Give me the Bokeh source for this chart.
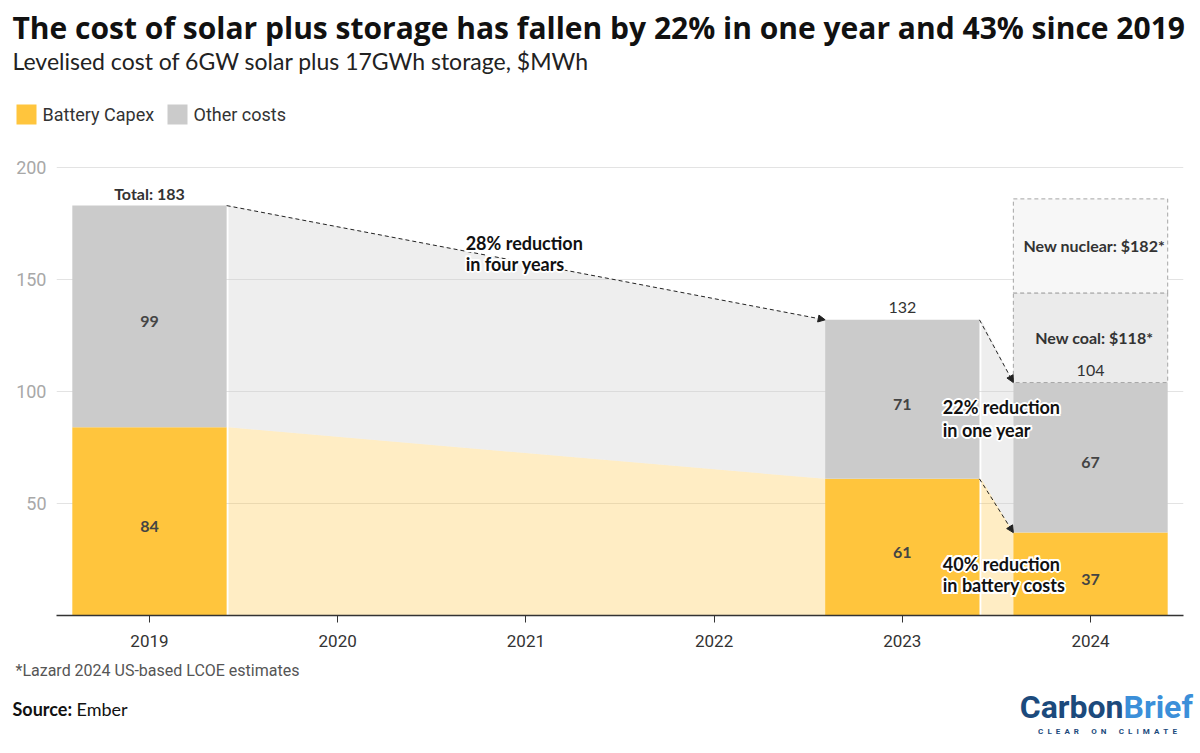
from bokeh.plotting import figure
from bokeh.layouts import column
from bokeh.models import (ColumnDataSource, Arrow, NormalHead, FixedTicker, Range1d)
from bokeh.embed import file_html
from bokeh.resources import INLINE
from bokeh.core.properties import value

# ---------------- data ----------------
years = [2019, 2023, 2024]
year_ticks = [2019, 2020, 2021, 2022, 2023, 2024]
battery_capex = [84, 61, 37]
other_costs = [99, 71, 67]
totals = [183, 132, 104]
total_labels = ["Total: 183", "132", "104"]
compare_names = ["New coal: $118*", "New nuclear: $182*"]
compare_bottom = [104, 144]
compare_top = [144, 186]
y_ticks = [50, 100, 150, 200]
series_names = ["Battery Capex", "Other costs"]

BAR_W = 0.82
YELLOW = "#FFC53D"
GREY = "#CBCBCB"
BOLD_FONT = "Lato"
TICK_FONT = "Roboto"
LOGO_FONT = "'Noto Sans ExtraCondensed', 'Noto Sans Condensed', Roboto"
W = 1200


def blank(height, y0, y1):
    f = figure(width=W, height=height, output_backend="svg", toolbar_location=None,
               x_range=Range1d(0, W), y_range=Range1d(y0, y1),
               x_axis_type=None, y_axis_type=None, min_border=0)
    f.outline_line_color = None
    f.grid.visible = False
    f.background_fill_color = "white"
    f.border_fill_color = "white"
    return f


# ---------------- header ----------------
head = blank(150, 150, 0)
head.text(x=[12], y=[27],
          text=["The cost of solar plus storage has fallen by 22% in one year and 43% since 2019"],
          text_font=value("Open Sans"), text_font_style="bold", text_font_size="30px",
          text_color="#111111", text_baseline="middle")
head.text(x=[12], y=[60], text=["Levelised cost of 6GW solar plus 17GWh storage, $MWh"],
          text_font=value(BOLD_FONT), text_font_size="23px", text_color="#222222",
          text_baseline="middle")
head.quad(left=[16, 167], right=[36, 187], top=[104, 104], bottom=[124, 124],
          fill_color=[YELLOW, GREY], line_color=None)
head.text(x=[42, 193], y=[114, 114], text=series_names, text_font=value(TICK_FONT),
          text_font_size="18px", text_color="#333333", text_baseline="middle")

# ---------------- main chart ----------------
p = figure(width=W, height=505, output_backend="svg", toolbar_location=None,
           x_range=Range1d(2018.506, 2024.494), y_range=Range1d(0, 207.6),
           min_border_left=56, min_border_right=17, min_border_top=0,
           min_border_bottom=40)
p.outline_line_color = None
p.background_fill_color = "white"
p.border_fill_color = "white"

p.xgrid.visible = False
p.ygrid.ticker = FixedTicker(ticks=y_ticks)
p.ygrid.grid_line_color = "#e3e3e3"
p.ygrid.grid_line_width = 1

p.xaxis.ticker = FixedTicker(ticks=year_ticks)
p.xaxis.axis_line_color = "#333333"
p.xaxis.axis_line_width = 1.5
p.xaxis.major_tick_line_color = "#333333"
p.xaxis.major_tick_out = 7
p.xaxis.major_tick_in = 0
p.xaxis.minor_tick_line_color = None
p.xaxis.major_label_text_font = TICK_FONT
p.xaxis.major_label_text_font_size = "17px"
p.xaxis.major_label_text_color = "#333333"
p.xaxis.major_label_standoff = 12

p.yaxis.ticker = FixedTicker(ticks=y_ticks)
p.yaxis.axis_line_color = None
p.yaxis.major_tick_line_color = None
p.yaxis.major_tick_out = 0
p.yaxis.major_tick_in = 0
p.yaxis.minor_tick_line_color = None
p.yaxis.minor_tick_out = 0
p.yaxis.major_label_text_font = TICK_FONT
p.yaxis.major_label_text_font_size = "18px"
p.yaxis.major_label_text_color = "#a8a8a8"
p.yaxis.major_label_standoff = 10

# connecting light areas
GAP = 0.01
for i in range(len(years) - 1):
    xs = [years[i] + BAR_W / 2 + GAP, years[i + 1] - BAR_W / 2]
    b = [battery_capex[i], battery_capex[i + 1]]
    t = [totals[i], totals[i + 1]]
    p.varea(x=xs, y1=[0, 0], y2=b, fill_color=YELLOW, fill_alpha=0.3)
    p.varea(x=xs, y1=b, y2=t, fill_color=GREY, fill_alpha=0.33)

# bars
src = ColumnDataSource(dict(
    year=years, battery=battery_capex, other=other_costs, total=totals,
    bat_mid=[b / 2 for b in battery_capex],
    oth_mid=[b + o / 2 for b, o in zip(battery_capex, other_costs)],
    bat_txt=[str(v) for v in battery_capex],
    oth_txt=[str(v) for v in other_costs],
    tot_txt=total_labels,
    tot_style=["bold", "normal", "normal"],
))
p.vbar(x="year", bottom=0, top="battery", width=BAR_W, source=src,
       fill_color=YELLOW, line_color=None)
p.vbar(x="year", bottom="battery", top="total", width=BAR_W, source=src,
       fill_color=GREY, line_color=None)

# comparison boxes
csrc = ColumnDataSource(dict(
    name=compare_names, bottom=compare_bottom, top=compare_top,
    mid=[(b + t) / 2 for b, t in zip(compare_bottom, compare_top)],
    left=[years[-1] - BAR_W / 2] * 2, right=[years[-1] + BAR_W / 2] * 2,
    fill=["#ebebeb", "#f7f7f7"],
))
p.quad(left="left", right="right", bottom="bottom", top="top", source=csrc,
       fill_color="fill", line_color="#a5a5a5", line_dash="4 3", line_width=1)
p.text(x=years[-1] + 0.02, y="mid", text="name", source=csrc,
       text_font=value(BOLD_FONT), text_font_style="bold", text_font_size="16px",
       text_color="#333333", text_align="center", text_baseline="middle")

# segment labels
common = dict(source=src, text_font=value(BOLD_FONT), text_font_style="bold",
              text_font_size="16px", text_color="#444444", text_align="center",
              text_baseline="middle", y_offset=5)
p.text(x="year", y="bat_mid", text="bat_txt", **common)
p.text(x="year", y="oth_mid", text="oth_txt", **common)
p.text(x="year", y="total", text="tot_txt", source=src, text_font=value(BOLD_FONT),
       text_font_style="tot_style", text_font_size="16px", text_color="#333333",
       text_align="center", text_baseline="middle", y_offset=-12)


# arrows
def arrow(x0, y0, x1, y1):
    p.add_layout(Arrow(end=NormalHead(size=7, line_color="#222222", fill_color="#222222",
                                      line_width=1),
                       x_start=x0, y_start=y0, x_end=x1, y_end=y1,
                       line_color="#222222", line_width=1, line_dash="4 3"))


arrow(years[0] + BAR_W / 2, totals[0], years[1] - BAR_W / 2, totals[1])
arrow(years[1] + BAR_W / 2, totals[1], years[2] - BAR_W / 2, totals[2])
arrow(years[1] + BAR_W / 2, battery_capex[1], years[2] - BAR_W / 2, battery_capex[2])

# annotation texts with white halo (drawn above the arrows)
note_text = ["28% reduction", "in four years", "22% reduction", "in one year",
             "40% reduction", "in battery costs"]
note_x = [2020.68, 2020.68, 2023.215, 2023.215, 2023.215, 2023.215]
note_y = [166.5, 157.1, 92.9, 83.0, 23.2, 13.4]
halo = [(-2, 0), (2, 0), (0, -2), (0, 2), (-1.5, -1.5), (1.5, -1.5), (-1.5, 1.5), (1.5, 1.5)]
hsrc = ColumnDataSource(dict(
    x=[x for x in note_x for _ in halo], y=[y for y in note_y for _ in halo],
    t=[t for t in note_text for _ in halo],
    dx=[d[0] for _ in note_text for d in halo], dy=[d[1] for _ in note_text for d in halo],
))
note_style = dict(text_font=value(BOLD_FONT), text_font_style="bold",
                  text_font_size="18px", text_baseline="middle", text_align="left",
                  level="overlay")
p.text(x="x", y="y", text="t", x_offset="dx", y_offset="dy", source=hsrc,
       text_color="white", **note_style)
p.text(x=note_x, y=note_y, text=note_text, text_color="#111111", **note_style)

# ---------------- footer ----------------
foot = blank(98, 753, 655)
foot.text(x=[15], y=[670], text=["*Lazard 2024 US-based LCOE estimates"],
          text_font=value(TICK_FONT), text_font_size="16px", text_color="#555555",
          text_baseline="middle")
foot.text(x=[12], y=[708], text=["Source:"], text_font=value(BOLD_FONT),
          text_font_style="bold", text_font_size="18px", text_color="#111111",
          text_baseline="middle")
foot.text(x=[76], y=[708], text=["Ember"], text_font=value(BOLD_FONT),
          text_font_size="18px", text_color="#111111", text_baseline="middle")
foot.text(x=[1123], y=[706], text=["Carbon"], text_font=value(LOGO_FONT),
          text_font_style="bold", text_font_size="32px", text_color="#1c4a7c",
          text_baseline="middle", text_align="right")
foot.text(x=[1123], y=[706], text=["Brief"], text_font=value(LOGO_FONT),
          text_font_style="bold", text_font_size="32px", text_color="#3b8fd9",
          text_baseline="middle", text_align="left")
SP, WSP = "\u2002", "\u2003\u2002"
tagline = WSP.join(SP.join(w) for w in ["CLEAR", "ON", "CLIMATE"])
foot.text(x=[1107], y=[731], text=[tagline],
          text_font=value(TICK_FONT), text_font_style="bold", text_font_size="8px",
          text_color="#1c4a7c", text_baseline="middle", text_align="center")

layout = column(column(head), p, column(foot), spacing=0)
open("out.html", "w").write(file_html(layout, INLINE))
